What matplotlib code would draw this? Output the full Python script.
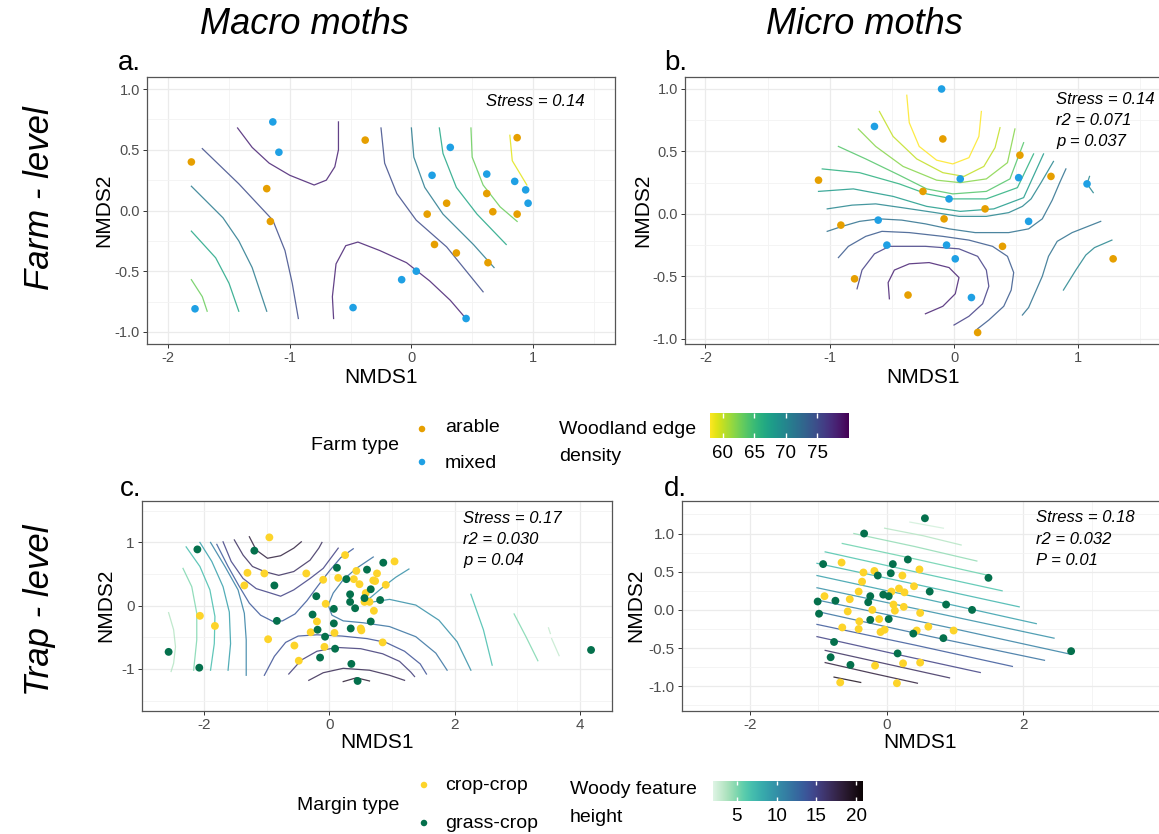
import numpy as np
import matplotlib
matplotlib.use("Agg")
import matplotlib.pyplot as plt
import seaborn as sns
from matplotlib.colors import Normalize

plt.rcParams['font.family'] = ['Liberation Sans', 'DejaVu Sans']
plt.rcParams['axes.unicode_minus'] = False

W, H = 1159, 834

# ---------------- data ----------------
# a. macro moths, farm level
a_arable_x = [-1.81, -1.19, -1.16, -0.38, 0.87, 0.62, 0.29, 0.13, 0.67, 0.87, 0.19, 0.37, 0.63]
a_arable_y = [0.40, 0.18, -0.09, 0.58, 0.60, 0.14, 0.06, -0.03, -0.01, -0.03, -0.28, -0.35, -0.43]
a_mixed_x = [-1.14, -1.09, 0.32, 0.17, 0.62, 0.85, 0.94, 0.96, -1.78, -0.48, -0.08, 0.04, 0.45]
a_mixed_y = [0.73, 0.48, 0.52, 0.29, 0.30, 0.24, 0.17, 0.06, -0.81, -0.80, -0.57, -0.50, -0.89]

# contour lines of woodland edge density: (level, points)
a_lines = [
    (78, [(-1.43, 0.68), (-1.31, 0.52), (-1.17, 0.39), (-1.00, 0.29), (-0.80, 0.21), (-0.70, 0.25), (-0.63, 0.36), (-0.60, 0.50), (-0.60, 0.73)]),
    (78, [(-0.64, -0.89), (-0.65, -0.71), (-0.62, -0.44), (-0.54, -0.29), (-0.44, -0.26), (-0.26, -0.33), (-0.04, -0.43), (0.15, -0.58), (0.32, -0.74), (0.44, -0.88)]),
    (75, [(-1.72, 0.51), (-1.42, 0.22), (-1.14, -0.08), (-1.04, -0.33), (-0.98, -0.60), (-0.93, -0.89)]),
    (71, [(-1.81, 0.20), (-1.55, -0.06), (-1.42, -0.25), (-1.31, -0.47), (-1.19, -0.83)]),
    (67, [(-1.81, -0.17), (-1.61, -0.39), (-1.50, -0.60), (-1.42, -0.83)]),
    (63, [(-1.81, -0.57), (-1.72, -0.71), (-1.68, -0.83)]),
    (75, [(-0.25, 0.68), (-0.22, 0.39), (-0.12, 0.14), (0.04, -0.08), (0.29, -0.30), (0.59, -0.67)]),
    (71, [(0.00, 0.68), (0.02, 0.44), (0.11, 0.19), (0.26, -0.03), (0.51, -0.28), (0.68, -0.47)]),
    (67, [(0.23, 0.68), (0.26, 0.47), (0.37, 0.19), (0.54, -0.03), (0.78, -0.28)]),
    (63, [(0.49, 0.68), (0.50, 0.44), (0.59, 0.21), (0.73, 0.03), (0.87, -0.09)]),
    (59, [(0.81, 0.62), (0.83, 0.41), (0.95, 0.21)]),
]

# b. micro moths, farm level
b_arable_x = [-0.09, 0.53, 0.78, -1.09, -0.25, 0.25, -0.08, -0.91, 0.39, 1.28, -0.80, -0.37, 0.19]
b_arable_y = [0.60, 0.47, 0.30, 0.27, 0.18, 0.04, -0.04, -0.09, -0.26, -0.36, -0.52, -0.65, -0.95]
b_mixed_x = [-0.10, -0.64, 0.05, -0.04, 0.52, 0.60, -0.61, -0.54, -0.06, 0.01, 0.14, 1.07]
b_mixed_y = [1.00, 0.70, 0.28, 0.12, 0.29, -0.06, -0.05, -0.25, -0.25, -0.36, -0.67, 0.24]

b_lines = [
    (58, [(-0.38, 0.95), (-0.36, 0.73), (-0.28, 0.54), (-0.14, 0.43), (-0.01, 0.40), (0.12, 0.45), (0.20, 0.62), (0.22, 0.82)]),
    (60, [(-0.60, 0.82), (-0.49, 0.62), (-0.30, 0.44), (-0.09, 0.33), (0.08, 0.30), (0.24, 0.38), (0.33, 0.53), (0.37, 0.69)]),
    (62, [(-0.77, 0.68), (-0.63, 0.54), (-0.41, 0.38), (-0.14, 0.27), (0.05, 0.25), (0.26, 0.28), (0.43, 0.41), (0.49, 0.68)]),
    (64, [(-0.93, 0.54), (-0.71, 0.44), (-0.44, 0.31), (-0.22, 0.20), (-0.01, 0.16), (0.26, 0.18), (0.45, 0.28), (0.56, 0.57)]),
    (66, [(-1.06, 0.36), (-0.76, 0.33), (-0.44, 0.24), (-0.22, 0.16), (-0.01, 0.12), (0.26, 0.12), (0.51, 0.21), (0.64, 0.48)]),
    (68, [(-1.09, 0.18), (-0.81, 0.20), (-0.49, 0.14), (-0.22, 0.06), (0.05, 0.02), (0.32, 0.04), (0.56, 0.13), (0.72, 0.48)]),
    (70, [(-1.02, 0.04), (-0.82, 0.07), (-0.63, 0.08), (-0.42, 0.05), (-0.15, 0.01), (0.04, -0.02), (0.26, -0.02), (0.44, 0.01), (0.55, 0.06), (0.62, 0.12), (0.70, 0.25), (0.80, 0.42)]),
    (72, [(-1.02, -0.14), (-0.90, -0.10), (-0.76, -0.06), (-0.60, -0.04), (-0.42, -0.05), (-0.23, -0.08), (-0.04, -0.12), (0.17, -0.15), (0.44, -0.15), (0.60, -0.12), (0.71, -0.04), (0.79, 0.11), (0.85, 0.25), (0.90, 0.36)]),
    (74, [(-0.93, -0.35), (-0.85, -0.26), (-0.71, -0.18), (-0.58, -0.14), (-0.36, -0.15), (-0.09, -0.18), (0.12, -0.21), (0.31, -0.26), (0.43, -0.34), (0.48, -0.47), (0.46, -0.61), (0.40, -0.74), (0.28, -0.85), (0.19, -0.92)]),
    (76, [(-0.78, -0.60), (-0.74, -0.45), (-0.64, -0.32), (-0.52, -0.26), (-0.23, -0.26), (0.04, -0.28), (0.19, -0.34), (0.26, -0.45), (0.28, -0.58), (0.23, -0.72), (0.12, -0.82), (0.00, -0.89)]),
    (78, [(-0.52, -0.68), (-0.53, -0.55), (-0.48, -0.45), (-0.36, -0.40), (-0.20, -0.39), (-0.04, -0.43), (0.04, -0.51), (0.01, -0.64), (-0.09, -0.74), (-0.23, -0.80)]),
    (72, [(0.55, -0.81), (0.60, -0.75), (0.71, -0.50), (0.76, -0.34), (0.83, -0.22), (0.95, -0.15), (1.18, -0.06)]),
    (70, [(0.88, -0.61), (0.98, -0.45), (1.06, -0.33), (1.13, -0.27), (1.27, -0.21)]),
    (70, [(1.09, 0.30), (1.07, 0.24), (1.12, 0.17)]),
]

# c. macro moths, trap level
c_grass_x = [-2.11, -1.20, -0.88, -0.84, -2.57, -2.08, 4.18, 0.12, 0.27, 0.60, 0.86, 0.33, 0.33, 0.41, 0.66,
             0.56, 0.81, 0.66, 0.34, 0.07, 0.07, -0.21, -0.27, -0.19, -0.07, 0.09, -0.15, 0.35, 0.45]
c_grass_y = [0.89, 0.87, 0.32, -0.24, -0.73, -0.98, -0.70, 0.60, 0.42, 0.57, 0.68, 0.18, 0.06, -0.04, 0.26,
             0.12, 0.09, -0.25, -0.36, -0.05, -0.28, 0.15, -0.14, -0.38, -0.49, -0.68, -0.82, -0.92, -1.19]
c_crop_x = [-0.96, -1.31, -1.04, -1.36, -2.07, -1.83, -0.98, -0.37, -0.10, 0.14, 0.25, 1.04, 0.43, 0.39, 0.48,
            0.70, 0.73, 0.76, 0.90, 0.58, 0.56, 0.64, 0.71, -0.06, -0.20, -0.30, 0.08, 0.50, 0.51, 0.85,
            -0.56, -0.08, -0.49]
c_crop_y = [1.08, 0.52, 0.51, 0.32, -0.16, -0.32, -0.53, 0.51, 0.41, 0.44, 0.80, 0.70, 0.55, 0.42, 0.34,
            0.40, 0.39, 0.51, 0.33, 0.20, 0.06, 0.06, -0.08, 0.03, -0.25, -0.42, -0.43, -0.36, -0.39, -0.58,
            -0.63, -0.65, -0.87]

# contour lines of woody feature height
c_lines = [
    (3.5, [(-2.57, -0.11), (-2.49, -0.38), (-2.46, -0.65), (-2.49, -0.91), (-2.53, -1.04)]),
    (5, [(-2.34, 0.59), (-2.20, 0.30), (-2.12, -0.12), (-2.12, -0.54), (-2.17, -1.02)]),
    (7, [(-2.29, 0.93), (-2.07, 0.62), (-1.91, 0.25), (-1.83, -0.17), (-1.84, -0.60), (-1.90, -1.02)]),
    (9, [(-2.07, 1.00), (-1.88, 0.70), (-1.70, 0.30), (-1.60, -0.10), (-1.58, -0.60), (-1.62, -1.02)]),
    (11, [(-1.90, 1.00), (-1.67, 0.62), (-1.46, 0.25), (-1.36, -0.12), (-1.33, -0.54), (-1.33, -1.10)]),
    (18, [(-1.28, 1.09), (-1.17, 0.88), (-0.99, 0.75), (-0.78, 0.79), (-0.57, 0.91), (-0.45, 1.01)]),
    (16.5, [(-1.52, 1.04), (-1.38, 0.80), (-1.23, 0.62), (-1.04, 0.54), (-0.81, 0.48), (-0.57, 0.54), (-0.31, 0.72), (-0.17, 0.91), (-0.12, 1.00)]),
    (15, [(-1.70, 1.01), (-1.57, 0.70), (-1.38, 0.43), (-1.17, 0.27), (-0.94, 0.20), (-0.78, 0.15), (-0.57, 0.25), (-0.31, 0.43), (-0.10, 0.59), (0.14, 0.91)]),
    (13.5, [(-1.80, 0.97), (-1.62, 0.62), (-1.45, 0.32), (-1.28, 0.04), (-1.10, -0.15), (-0.90, -0.25), (-0.75, -0.24), (-0.55, -0.13), (-0.36, 0.08), (-0.18, 0.32), (0.00, 0.55), (0.18, 0.76), (0.38, 0.90)]),
    (14, [(-1.04, -1.10), (-0.88, -0.80), (-0.70, -0.58), (-0.50, -0.48), (-0.20, -0.46), (0.20, -0.48), (0.60, -0.52), (0.90, -0.58), (1.20, -0.72), (1.45, -0.92), (1.55, -1.08)]),
    (15.5, [(-0.65, -1.08), (-0.45, -0.86), (-0.20, -0.72), (0.12, -0.66), (0.50, -0.68), (0.85, -0.76), (1.12, -0.88), (1.30, -1.05), (1.36, -1.12)]),
    (17, [(-0.33, -1.18), (-0.10, -1.06), (0.22, -0.99), (0.64, -1.02), (0.96, -1.10), (1.20, -1.18)]),
    (18.5, [(0.22, -1.20), (0.43, -1.14), (0.64, -1.19)]),
    (12, [(0.70, 0.77), (0.43, 0.59), (0.22, 0.41), (0.06, 0.20), (-0.02, 0.01), (0.04, -0.15), (0.22, -0.24), (0.54, -0.27), (0.96, -0.33), (1.38, -0.49), (1.70, -0.75), (1.88, -1.02)]),
    (10, [(1.27, 0.58), (1.06, 0.45), (0.85, 0.29), (0.67, 0.14), (0.56, 0.05), (0.60, 0.03), (0.70, 0.06), (0.96, 0.10), (1.38, 0.01), (1.75, -0.23), (2.04, -0.57), (2.26, -1.02)]),
    (7, [(2.26, 0.18), (2.46, -0.38), (2.60, -0.94)]),
    (5, [(2.95, -0.13), (3.14, -0.49), (3.33, -0.87)]),
    (3, [(3.50, -0.35), (3.53, -0.44)]),
    (3, [(3.55, -0.52), (3.67, -0.79)]),
]

# d. micro moths, trap level
d_grass_x = [0.56, -0.33, -0.93, 0.09, 0.31, 0.06, -0.13, 1.49, 0.63, -0.24, -0.05, 0.03, -0.27, -1.01,
             -0.75, 0.87, 1.25, -0.99, -0.24, 0.03, 0.39, 0.83, -0.77, 2.70, -0.82, -0.53, 0.16]
d_grass_y = [1.20, 1.00, 0.60, 0.60, 0.66, 0.48, 0.45, 0.42, 0.24, 0.18, 0.20, 0.18, 0.10, 0.11,
             0.12, 0.07, 0.00, -0.05, -0.13, -0.12, -0.31, -0.37, -0.42, -0.54, -0.62, -0.72, -0.57]
d_crop_x = [-0.66, -0.34, -0.18, 0.48, 0.23, -0.36, 0.18, 0.26, 0.07, 0.40, -0.41, -0.91, -0.54, -0.21,
            0.25, 0.10, 0.12, -0.57, 0.49, -0.11, -0.40, -0.65, -0.41, -0.03, -0.09, 0.44, 0.61, 0.98,
            -0.17, 0.24, 0.49, -0.68, 0.15]
d_crop_y = [0.62, 0.49, 0.51, 0.53, 0.45, 0.37, 0.28, 0.23, 0.24, 0.31, 0.24, 0.18, 0.14, 0.00,
            0.04, 0.07, -0.01, -0.02, -0.04, -0.12, -0.15, -0.23, -0.25, -0.26, -0.29, -0.27, -0.22, -0.27,
            -0.73, -0.70, -0.69, -0.95, -0.96]

d_lines = [
    (2.5, [(0.34, 1.15), (0.83, 1.07)]),
    (3.5, [(-0.03, 1.07), (0.54, 0.97), (1.09, 0.85)]),
    (4.5, [(-0.48, 1.00), (0.41, 0.83), (1.32, 0.64)]),
    (5.5, [(-0.65, 0.87), (0.45, 0.66), (1.50, 0.45)]),
    (6.5, [(-0.90, 0.76), (0.41, 0.50), (1.69, 0.25)]),
    (7.5, [(-1.02, 0.61), (0.45, 0.33), (1.94, 0.04)]),
    (9, [(-1.02, 0.45), (0.58, 0.14), (2.19, -0.18)]),
    (10, [(-1.02, 0.29), (0.72, -0.04), (2.45, -0.37)]),
    (11, [(-1.02, 0.13), (0.85, -0.22), (2.69, -0.58)]),
    (12, [(-1.02, -0.02), (0.65, -0.35), (2.31, -0.66)]),
    (13.5, [(-1.02, -0.19), (0.41, -0.46), (1.84, -0.74)]),
    (15, [(-1.02, -0.35), (0.19, -0.59), (1.37, -0.82)]),
    (16.5, [(-0.90, -0.53), (0.01, -0.71), (0.92, -0.89)]),
    (18, [(-0.90, -0.69), (-0.21, -0.83), (0.45, -0.96)]),
    (19.5, [(-0.77, -0.88), (-0.38, -0.95)]),
]

stress_a = ["Stress = 0.14"]
stress_b = ["Stress = 0.14", "r2 = 0.071", "p = 0.037"]
stress_c = ["Stress = 0.17", "r2 = 0.030", "p = 0.04"]
stress_d = ["Stress = 0.18", "r2 = 0.032", "P = 0.01"]

wood_ticks = [60, 65, 70, 75]
height_ticks = [5, 10, 15, 20]

col_arable = "#E69F00"
col_mixed = "#1FA0E4"
col_crop = "#FDD42A"
col_grass = "#04704C"

cmap_top = plt.get_cmap("viridis_r")
norm_top = Normalize(58, 80)
cmap_bot = sns.color_palette("mako_r", as_cmap=True)
norm_bot = Normalize(2, 20.75)

fig = plt.figure(figsize=(W / 100, H / 100), dpi=100)


def px_axes(left, right, top, bottom):
    return fig.add_axes([left / W, 1 - bottom / H, (right - left) / W, (bottom - top) / H])


def ftext(x, y, s, **kw):
    fig.text(x / W, 1 - y / H, s, **kw)


def style(ax, xlim, ylim, xt, yt, ytl, xm, ym, ts):
    ax.set_xlim(xlim)
    ax.set_ylim(ylim)
    ax.set_xticks(xt)
    ax.set_xticklabels([str(v) for v in xt])
    ax.set_yticks(yt)
    ax.set_yticklabels(ytl)
    ax.set_xticks(xm, minor=True)
    ax.set_yticks(ym, minor=True)
    ax.grid(which='major', color='#EBEBEB', lw=0.9)
    ax.grid(which='minor', color='#F3F3F3', lw=0.6)
    ax.set_axisbelow(True)
    ax.tick_params(which='minor', length=0)
    ax.tick_params(which='major', length=3, width=0.7, color='#333333',
                   labelcolor='#4D4D4D', labelsize=ts, pad=2)
    for sp in ax.spines.values():
        sp.set_color('#555555')
        sp.set_linewidth(0.9)


def draw_lines(ax, lines, cmap, norm):
    for lvl, pts in lines:
        xs, ys = zip(*pts)
        ax.plot(xs, ys, color=cmap(norm(lvl)), lw=0.9, alpha=0.85, zorder=2)


ab_yt = [-1.0, -0.5, 0.0, 0.5, 1.0]
ab_ytl = ["-1.0", "-0.5", "0.0", "0.5", "1.0"]

# panel a
ax_a = px_axes(147, 615, 77, 344)
style(ax_a, (-2.175, 1.675), (-1.1, 1.1), [-2, -1, 0, 1], ab_yt, ab_ytl,
      [-1.5, -0.5, 0.5, 1.5], [-0.75, -0.25, 0.25, 0.75], 10.5)
draw_lines(ax_a, a_lines, cmap_top, norm_top)
ax_a.scatter(a_arable_x, a_arable_y, s=30, color=col_arable, edgecolors='none', zorder=3)
ax_a.scatter(a_mixed_x, a_mixed_y, s=30, color=col_mixed, edgecolors='none', zorder=3)

# panel b
ax_b = px_axes(685, 1162, 77, 344)
style(ax_b, (-2.164, 1.673), (-1.042, 1.096), [-2, -1, 0, 1], ab_yt, ab_ytl,
      [-1.5, -0.5, 0.5, 1.5], [-0.75, -0.25, 0.25, 0.75], 10.5)
draw_lines(ax_b, b_lines, cmap_top, norm_top)
ax_b.scatter(b_arable_x, b_arable_y, s=30, color=col_arable, edgecolors='none', zorder=3)
ax_b.scatter(b_mixed_x, b_mixed_y, s=30, color=col_mixed, edgecolors='none', zorder=3)

# panel c
ax_c = px_axes(141.7, 611.7, 500.7, 710.7)
style(ax_c, (-2.91, 4.51), (-1.66, 1.66), [-2, 0, 2, 4], [-1, 0, 1], ["-1", "0", "1"],
      [-3, -1, 1, 3], [-1.5, -0.5, 0.5, 1.5], 11)
draw_lines(ax_c, c_lines, cmap_bot, norm_bot)
ax_c.scatter(c_crop_x, c_crop_y, s=32, color=col_crop, edgecolors='none', zorder=3)
ax_c.scatter(c_grass_x, c_grass_y, s=32, color=col_grass, edgecolors='none', zorder=3)

# panel d (its right part lies outside the picture, as in the source figure)
ax_d = px_axes(681.7, 1162, 500.7, 710.7)
style(ax_d, (-2.28, 4.03), (-1.32, 1.43), [-2, 0, 2], ab_yt, ab_ytl,
      [-3, -1, 1, 3], [-1.25, -0.75, -0.25, 0.25, 0.75, 1.25], 11)
draw_lines(ax_d, d_lines, cmap_bot, norm_bot)
ax_d.scatter(d_crop_x, d_crop_y, s=32, color=col_crop, edgecolors='none', zorder=3)
ax_d.scatter(d_grass_x, d_grass_y, s=32, color=col_grass, edgecolors='none', zorder=3)

# stats text
for i, s in enumerate(stress_a):
    ftext(486, 101.7 + 21 * i, s, fontsize=12, style='italic', va='center')
for i, s in enumerate(stress_b):
    ftext(1056, 100 + 20.8 * i, s, fontsize=12, style='italic', va='center')
for i, s in enumerate(stress_c):
    ftext(463, 518.3 + 21.3 * i, s, fontsize=12, style='italic', va='center')
for i, s in enumerate(stress_d):
    ftext(1036, 518 + 21.3 * i, s, fontsize=12, style='italic', va='center')

# axis labels
for cx, cy in [(381, 377), (923, 377), (376.7, 743), (920, 743)]:
    ftext(cx, cy, "NMDS1", fontsize=15, ha='center', va='center')
for cx, cy in [(104, 210.5), (643, 210.5), (106, 605.7), (636, 605.7)]:
    ftext(cx, cy, "NMDS2", fontsize=15, ha='center', va='center', rotation=90)

# titles and panel letters
ftext(305, 25, "Macro moths", fontsize=26, style='italic', ha='center', va='center')
ftext(864, 25, "Micro moths", fontsize=26, style='italic', ha='center', va='center')
ftext(40, 198, "Farm - level", fontsize=25, style='italic', ha='center', va='center', rotation=90)
ftext(40, 610, "Trap - level", fontsize=25, style='italic', ha='center', va='center', rotation=90)
ftext(118, 70, "a.", fontsize=20, va='baseline')
ftext(664, 70, "b.", fontsize=20, va='baseline')
ftext(120, 496, "c.", fontsize=20, va='baseline')
ftext(664, 496, "d.", fontsize=20, va='baseline')

# legends
ov = fig.add_axes([0, 0, 1, 1])
ov.set_xlim(0, W)
ov.set_ylim(H, 0)
ov.axis('off')

ftext(311, 446, "Farm type", fontsize=14, va='center')
ov.scatter([422, 422], [429, 462], s=22, color=[col_arable, col_mixed], edgecolors='none')
ftext(445, 428, "arable", fontsize=14, va='center')
ftext(445, 463, "mixed", fontsize=14, va='center')
ftext(559, 429, "Woodland edge", fontsize=14, va='center')
ftext(559, 456, "density", fontsize=14, va='center')

ftext(297, 806, "Margin type", fontsize=14, va='center')
ov.scatter([424, 424], [785, 823], s=22, color=[col_crop, col_grass], edgecolors='none')
ftext(445, 785, "crop-crop", fontsize=14, va='center')
ftext(445, 824, "grass-crop", fontsize=14, va='center')
ftext(570, 790, "Woody feature", fontsize=14, va='center')
ftext(570, 818, "height", fontsize=14, va='center')


def colourbar(left, right, top, bottom, vmin, vmax, cmap, ticks):
    cax = px_axes(left, right, top, bottom)
    grad = np.linspace(vmin, vmax, 256)[None, :]
    cax.imshow(grad, extent=[vmin, vmax, 0, 1], aspect='auto', cmap=cmap, vmin=vmin, vmax=vmax)
    cax.vlines(ticks, 0, 0.2, color='white', lw=1)
    cax.vlines(ticks, 0.8, 1, color='white', lw=1)
    cax.set_xlim(vmin, vmax)
    cax.set_ylim(0, 1)
    cax.set_yticks([])
    cax.set_xticks(ticks)
    cax.set_xticklabels([str(t) for t in ticks])
    cax.tick_params(length=0, labelsize=13.5, pad=5)
    for sp in cax.spines.values():
        sp.set_visible(False)


colourbar(710, 848.5, 413.5, 438.5, 58, 80, cmap_top, wood_ticks)
colourbar(713, 862, 781, 801, 2, 20.75, cmap_bot, height_ticks)

fig.savefig("out.png", dpi=100)
